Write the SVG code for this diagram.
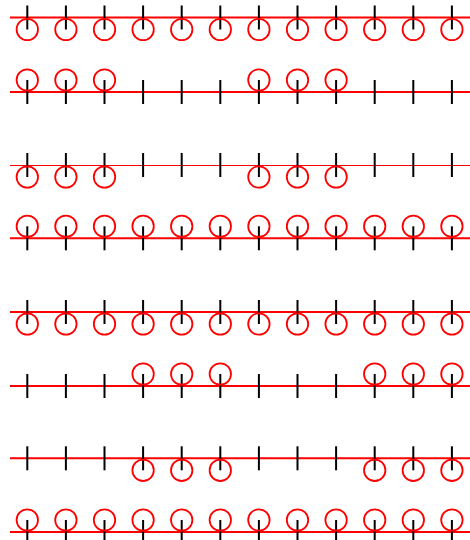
<svg xmlns="http://www.w3.org/2000/svg" width="470" height="540" viewBox="0 0 470 540">
<defs>
<style>
.ln{stroke:#ff0000;stroke-width:2;fill:none}
.ln.thin{stroke-width:1}
.tk{stroke:#000;stroke-width:2}
.c{fill:none;stroke:#ff0000;stroke-width:1.8}
</style>
<g id="tk"><line class="tk" x1="0" y1="-12" x2="0" y2="12"/></g>
<g id="cd"><use href="#tk"/><circle class="c" cx="0" cy="12" r="10.7"/></g>
<g id="cu"><use href="#tk"/><circle class="c" cx="0" cy="-12" r="10.7"/></g>
</defs>
<rect width="470" height="540" fill="#fff"/>
<g id="row1" transform="translate(0,17.5)">
<line class="ln" x1="10" y1="0" x2="470" y2="0"/>
<use href="#cd" x="27.3"/><use href="#cd" x="65.9"/><use href="#cd" x="104.5"/><use href="#cd" x="143.1"/><use href="#cd" x="181.7"/><use href="#cd" x="220.3"/><use href="#cd" x="258.9"/><use href="#cd" x="297.5"/><use href="#cd" x="336.1"/><use href="#cd" x="374.7"/><use href="#cd" x="413.3"/><use href="#cd" x="451.9"/>
</g>
<g id="row2" transform="translate(0,92)">
<line class="ln" x1="10" y1="0" x2="470" y2="0"/>
<use href="#cu" x="27.3"/><use href="#cu" x="65.9"/><use href="#cu" x="104.5"/><use href="#tk" x="143.1"/><use href="#tk" x="181.7"/><use href="#tk" x="220.3"/><use href="#cu" x="258.9"/><use href="#cu" x="297.5"/><use href="#cu" x="336.1"/><use href="#tk" x="374.7"/><use href="#tk" x="413.3"/><use href="#tk" x="451.9"/>
</g>
<g id="row3" transform="translate(0,165)">
<line class="ln thin" x1="10" y1="0.5" x2="470" y2="0.5"/>
<use href="#cd" x="27.3"/><use href="#cd" x="65.9"/><use href="#cd" x="104.5"/><use href="#tk" x="143.1"/><use href="#tk" x="181.7"/><use href="#tk" x="220.3"/><use href="#cd" x="258.9"/><use href="#cd" x="297.5"/><use href="#cd" x="336.1"/><use href="#tk" x="374.7"/><use href="#tk" x="413.3"/><use href="#tk" x="451.9"/>
</g>
<g id="row4" transform="translate(0,238.3)">
<line class="ln" x1="10" y1="0" x2="470" y2="0"/>
<use href="#cu" x="27.3"/><use href="#cu" x="65.9"/><use href="#cu" x="104.5"/><use href="#cu" x="143.1"/><use href="#cu" x="181.7"/><use href="#cu" x="220.3"/><use href="#cu" x="258.9"/><use href="#cu" x="297.5"/><use href="#cu" x="336.1"/><use href="#cu" x="374.7"/><use href="#cu" x="413.3"/><use href="#cu" x="451.9"/>
</g>
<g id="row5" transform="translate(0,312)">
<line class="ln" x1="10" y1="0" x2="470" y2="0"/>
<use href="#cd" x="27.3"/><use href="#cd" x="65.9"/><use href="#cd" x="104.5"/><use href="#cd" x="143.1"/><use href="#cd" x="181.7"/><use href="#cd" x="220.3"/><use href="#cd" x="258.9"/><use href="#cd" x="297.5"/><use href="#cd" x="336.1"/><use href="#cd" x="374.7"/><use href="#cd" x="413.3"/><use href="#cd" x="451.9"/>
</g>
<g id="row6" transform="translate(0,386)">
<line class="ln" x1="10" y1="0" x2="470" y2="0"/>
<use href="#tk" x="27.3"/><use href="#tk" x="65.9"/><use href="#tk" x="104.5"/><use href="#cu" x="143.1"/><use href="#cu" x="181.7"/><use href="#cu" x="220.3"/><use href="#tk" x="258.9"/><use href="#tk" x="297.5"/><use href="#tk" x="336.1"/><use href="#cu" x="374.7"/><use href="#cu" x="413.3"/><use href="#cu" x="451.9"/>
</g>
<g id="row7" transform="translate(0,458.3)">
<line class="ln" x1="10" y1="0" x2="470" y2="0"/>
<use href="#tk" x="27.3"/><use href="#tk" x="65.9"/><use href="#tk" x="104.5"/><use href="#cd" x="143.1"/><use href="#cd" x="181.7"/><use href="#cd" x="220.3"/><use href="#tk" x="258.9"/><use href="#tk" x="297.5"/><use href="#tk" x="336.1"/><use href="#cd" x="374.7"/><use href="#cd" x="413.3"/><use href="#cd" x="451.9"/>
</g>
<g id="row8" transform="translate(0,532)">
<line class="ln" x1="10" y1="0" x2="470" y2="0"/>
<use href="#cu" x="27.3"/><use href="#cu" x="65.9"/><use href="#cu" x="104.5"/><use href="#cu" x="143.1"/><use href="#cu" x="181.7"/><use href="#cu" x="220.3"/><use href="#cu" x="258.9"/><use href="#cu" x="297.5"/><use href="#cu" x="336.1"/><use href="#cu" x="374.7"/><use href="#cu" x="413.3"/><use href="#cu" x="451.9"/>
</g>
</svg>
